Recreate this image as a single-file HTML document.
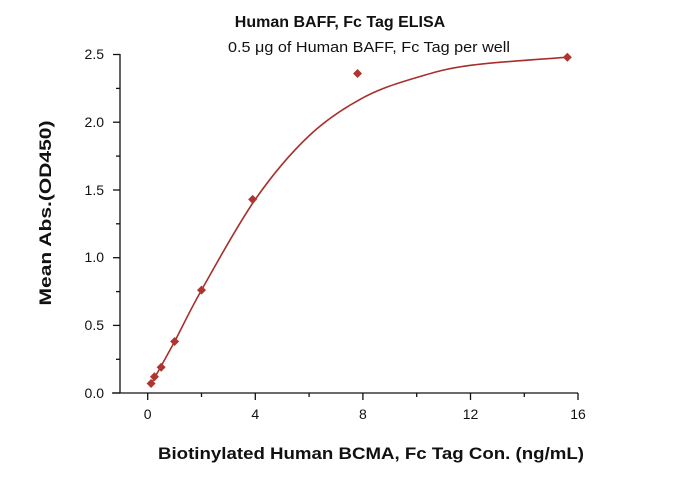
<!DOCTYPE html>
<html><head><meta charset="utf-8"><style>
body{margin:0;background:#fff;}
svg text{font-family:"Liberation Sans",sans-serif;fill:#111;}
</style></head><body>
<svg width="673" height="472" viewBox="0 0 673 472" xmlns="http://www.w3.org/2000/svg">
<text x="340" y="27" text-anchor="middle" font-size="16" font-weight="bold">Human BAFF, Fc Tag ELISA</text>
<text x="369" y="52" text-anchor="middle" font-size="15" textLength="282" lengthAdjust="spacingAndGlyphs">0.5 μg of Human BAFF, Fc Tag per well</text>
<g stroke="#111" stroke-width="1.3" fill="none">
<line x1="120" y1="54" x2="120" y2="393"/>
<line x1="112" y1="393" x2="578" y2="393"/>
<line x1="113" y1="54.5" x2="120" y2="54.5"/><line x1="116" y1="88.4" x2="120" y2="88.4"/>
<line x1="113" y1="122.2" x2="120" y2="122.2"/><line x1="116" y1="156.1" x2="120" y2="156.1"/>
<line x1="113" y1="190" x2="120" y2="190"/><line x1="116" y1="223.8" x2="120" y2="223.8"/>
<line x1="113" y1="257.7" x2="120" y2="257.7"/><line x1="116" y1="291.6" x2="120" y2="291.6"/>
<line x1="113" y1="325.4" x2="120" y2="325.4"/><line x1="116" y1="359.3" x2="120" y2="359.3"/>
<line x1="113" y1="393" x2="120" y2="393"/>
<line x1="147.7" y1="393" x2="147.7" y2="400"/><line x1="201.5" y1="393" x2="201.5" y2="397"/>
<line x1="255.3" y1="393" x2="255.3" y2="400"/><line x1="309.1" y1="393" x2="309.1" y2="397"/>
<line x1="362.9" y1="393" x2="362.9" y2="400"/><line x1="416.7" y1="393" x2="416.7" y2="397"/>
<line x1="470.5" y1="393" x2="470.5" y2="400"/><line x1="524.3" y1="393" x2="524.3" y2="397"/>
<line x1="578" y1="393" x2="578" y2="400"/>
</g>
<g font-size="14" text-anchor="end">
<text x="104" y="59">2.5</text><text x="104" y="127">2.0</text><text x="104" y="195">1.5</text>
<text x="104" y="262">1.0</text><text x="104" y="330">0.5</text><text x="104" y="398">0.0</text>
</g>
<g font-size="14" text-anchor="middle">
<text x="147.7" y="419">0</text><text x="255.3" y="419">4</text><text x="362.9" y="419">8</text>
<text x="470.5" y="419">12</text><text x="578" y="419">16</text>
</g>
<text x="371" y="459" text-anchor="middle" font-size="17" font-weight="bold" textLength="426" lengthAdjust="spacingAndGlyphs">Biotinylated Human BCMA, Fc Tag Con. (ng/mL)</text>
<text transform="translate(51,213) rotate(-90)" text-anchor="middle" font-size="17" font-weight="bold" textLength="185" lengthAdjust="spacingAndGlyphs">Mean Abs.(OD450)</text>
<path id="curve" fill="none" stroke="#a8302c" stroke-width="1.6" d=""/>
<g id="pts" fill="#b03530"></g>
</svg>
<script>
var X=function(v){return 147.7+26.9*v},Y=function(v){return 393-135.4*v};
var c=[[0.125,0.065],[1,0.38],[2,0.76],[4,1.43],[6,1.9],[8,2.18],[10,2.33],[12,2.42],[15.6,2.48]].map(function(p){return [X(p[0]),Y(p[1])]});
var d="M"+c[0][0]+","+c[0][1];
for(var i=0;i<c.length-1;i++){var p0=c[i-1]||c[i],p1=c[i],p2=c[i+1],p3=c[i+2]||p2;
d+=" C"+(p1[0]+(p2[0]-p0[0])/6)+","+(p1[1]+(p2[1]-p0[1])/6)+" "+(p2[0]-(p3[0]-p1[0])/6)+","+(p2[1]-(p3[1]-p1[1])/6)+" "+p2[0]+","+p2[1];}
document.getElementById("curve").setAttribute("d",d);
var pts=[[0.125,0.07],[0.25,0.12],[0.5,0.19],[1,0.38],[2,0.76],[3.9,1.43],[7.8,2.36],[15.6,2.48]],g=document.getElementById("pts"),s="";
pts.forEach(function(p){var x=X(p[0]),y=Y(p[1]);s+='<polygon points="'+x+','+(y-4.5)+' '+(x+4.5)+','+y+' '+x+','+(y+4.5)+' '+(x-4.5)+','+y+'"/>';});
g.innerHTML=s;
</script>
</body></html>
